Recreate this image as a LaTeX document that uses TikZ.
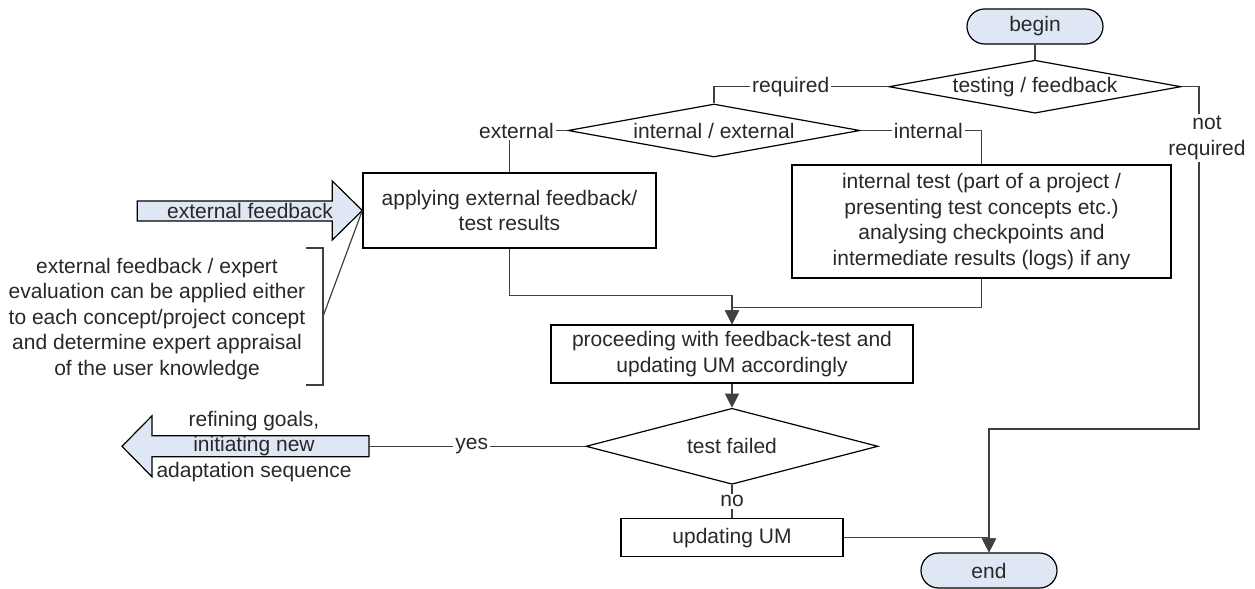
\documentclass[tikz,border=0pt]{standalone}
\usepackage{fontspec}
\setmainfont{Liberation Sans}
\usetikzlibrary{shapes.geometric, arrows.meta, positioning}

\definecolor{termblue}{RGB}{222,231,243}
\definecolor{ink}{RGB}{40,40,40}

\begin{document}
\begin{tikzpicture}[
      x=0.5pt, y=-0.5pt,
      every node/.style={font=\fontsize{10.5}{12.75}\selectfont, text=ink},
      % Define compact styles
      terminal/.style={rectangle, rounded corners=8.75pt, draw, line width=0.6pt, fill=termblue, minimum width=68pt, minimum height=17.5pt},
      process/.style={rectangle, draw, line width=0.7pt, align=center, inner sep=2pt},
      decision/.style={diamond, draw, line width=0.6pt, inner sep=0pt, minimum width=146pt, minimum height=26.5pt},
      fat/.style={draw, line width=0.6pt, fill=termblue},
      line/.style={draw, line width=0.6pt, black!75},
      arrow/.style={line, -{Triangle[width=7pt, length=7pt]}},
      lbl/.style={fill=white, inner sep=1pt}
    ]
    \useasboundingbox (0,0) rectangle (1255,589);

    % Top - start and the two decisions
    \node[terminal] (begin) at (1035,26.5) {begin};
    \node[decision, below=7.5pt of begin, label=center:testing / feedback] (testing) {};
    \node[decision, label=center:internal / external] (intext) at (714,130.5) {};

    % Middle row - kinds of test
    \node[process, minimum width=146.5pt, minimum height=37.5pt] (applying) at (509.5,210.5) {applying external feedback/\\test results};
    \node[process, minimum width=189.5pt, minimum height=56.5pt] (internal) at (981.5,221.5) {internal test (part of a project /\\presenting test concepts etc.)\\analysing checkpoints and\\intermediate results (logs) if any};
    \node[process, minimum width=181pt, minimum height=29pt] (proceed) at (732,354) {proceeding with feedback-test and\\updating UM accordingly};

    % Bottom - outcome
    \node[decision, minimum height=38pt, below=12pt of proceed, label=center:test failed] (failed) {};
    \node[process, minimum width=111pt, minimum height=19pt, below=16.5pt of failed] (update) {updating UM};
    \node[terminal] (end) at (989,570.5) {end};

    % Side notes
    \draw[fat] (applying.west) -- ++(-30,-29.5) -- ++(0,20) -- ++(-195,0) -- ++(0,20) -- ++(195,0) -- ++(0,19) -- cycle;
    \node (feedback) at (250,211) {external feedback};
    \node[align=center] (note) at (157,319) {external feedback / expert\\evaluation can be applied either\\to each concept/project concept\\and determine expert appraisal\\of the user knowledge};
    \coordinate (bracket) at (323,316.5);
    \draw[line] (306,248) -| (323,385) -- (306,385);
    \draw[line] (bracket) -- (applying.west);

    \coordinate (refine) at (369,0 |- failed.west);
    \draw[fat] (refine) -- ++(0,-10.5) -- ++(-217,0) -- ++(0,-20) -- ++(-30,30.5) -- ++(30,30.5) -- ++(0,-20) -- ++(217,0) -- cycle;
    \node[align=center] (goals) at ([xshift=-57.5pt]refine) {refining goals,\\initiating new\\adaptation sequence};

    % Connectors
    \coordinate (skip) at (1199,429);
    \draw[line] (begin) -- (testing);
    \draw[line] (testing.west) -| node[lbl, pos=0.28] {required} (intext.north);
    \draw[arrow] (testing.east) -| node[lbl, pos=0.575, xshift=4pt, align=center] {not\\required} (skip) -| (end.north);
    \draw[line] (intext.west) -| node[lbl, pos=0.5, xshift=3.5pt] {external} (applying.north);
    \draw[line] (intext.east) -| node[lbl, pos=0.28] {internal} (internal.north);
    \draw[arrow] (applying.south) -- ++(0,47) -| (proceed.north);
    \draw[arrow] (internal.south) -- ++(0,29) -| (proceed.north);
    \draw[arrow] (proceed) -- (failed);
    \draw[line] (failed.west) -- node[lbl, pos=0.525] {yes} (refine);
    \draw[line] (failed) -- node[lbl] {no} (update);
    \draw[arrow] (update.east) -| (end.north);

  \end{tikzpicture}
\end{document}
